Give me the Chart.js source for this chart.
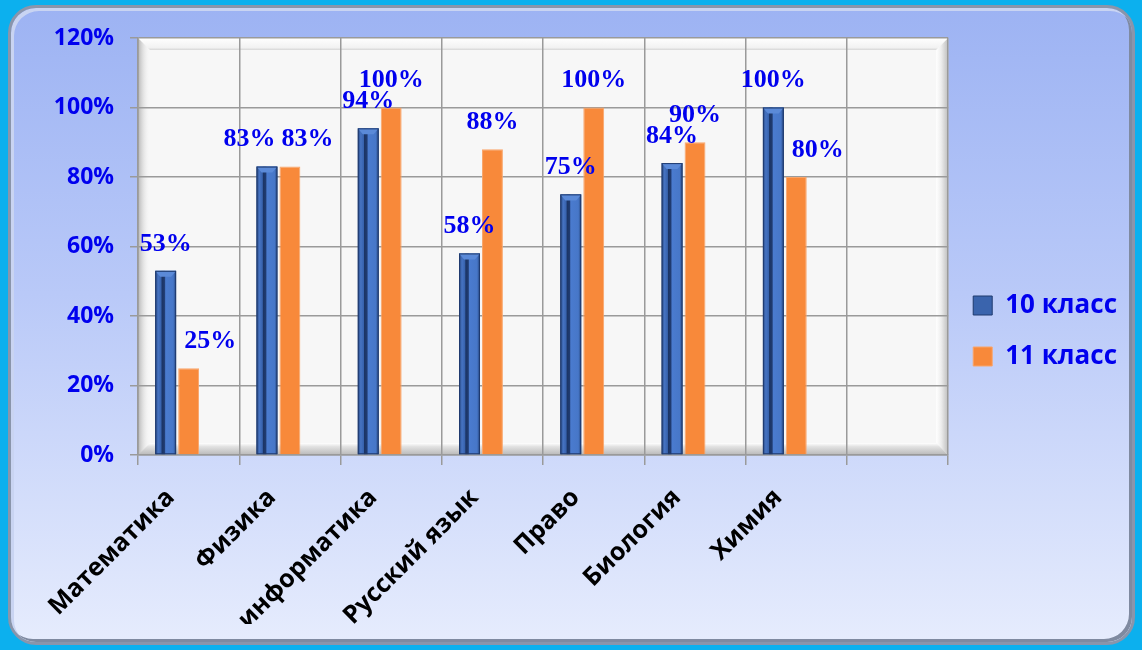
<!DOCTYPE html>
<html>
<head>
<meta charset="utf-8">
<script src="https://cdn.jsdelivr.net/npm/chart.js@4/dist/chart.umd.min.js"></script>
<style>
    html, body { margin: 0; padding: 0; }
    body { width: 1142px; height: 650px; background: #0cb0ee; position: relative; overflow: hidden; }
    #frame {
        position: absolute; left: 8px; top: 5px; width: 1121px; height: 634px;
        border: 3px solid #8a95ab; border-radius: 28px;
        background: linear-gradient(to bottom, #9db3f3 0%, #b9c9f8 45%, #e6ecfd 100%);
        box-shadow: inset 3px 3px 0 #c9d4f2, inset -3px -3px 0 #7f8aa0;
    }
    #myChart { position: absolute; left: 0; top: 0; }
</style>
</head>
<body>
<div id="frame"></div>
<canvas id="myChart" width="1142" height="650"></canvas>
<script>
var categories = ['Математика', 'Физика', 'информатика', 'Русский язык', 'Право', 'Биология', 'Химия', ''];
var class10 = [53, 83, 94, 58, 75, 84, 100, null];
var class11 = [25, 83, 100, 88, 100, 90, 80, null];
var spacer = [null, null, null, null, null, null, null, null];
var yTicks = [0, 20, 40, 60, 80, 100, 120];

var labelBlue = '#0000ee';

// plot area with the bevelled Excel look
var plotBackground = {
    id: 'plotBackground',
    beforeDraw: function (chart) {
        var c = chart.ctx, a = chart.chartArea;
        var l = a.left, t = a.top, r = a.right, b = a.bottom;
        c.save();
        c.fillStyle = '#f7f7f7';
        c.fillRect(l, t, r - l, b - t);
        // left shade
        var g = c.createLinearGradient(l, 0, l + 12, 0);
        g.addColorStop(0, '#b4b4b4');
        g.addColorStop(1, 'rgba(247,247,247,0)');
        c.fillStyle = g;
        c.fillRect(l, t, 12, b - t);
        // top lip
        g = c.createLinearGradient(0, t, 0, t + 12);
        g.addColorStop(0, '#ffffff');
        g.addColorStop(0.8, '#f2f2f2');
        g.addColorStop(1, '#d6d6d6');
        c.fillStyle = g;
        c.beginPath();
        c.moveTo(l, t); c.lineTo(r, t); c.lineTo(r - 12, t + 12); c.lineTo(l + 12, t + 12); c.closePath();
        c.fill();
        // right side
        g = c.createLinearGradient(r - 12, 0, r, 0);
        g.addColorStop(0, '#ffffff');
        g.addColorStop(0.4, '#eeeeee');
        g.addColorStop(1, '#bdbdbd');
        c.fillStyle = g;
        c.beginPath();
        c.moveTo(r, t); c.lineTo(r, b); c.lineTo(r - 12, b - 12); c.lineTo(r - 12, t + 12); c.closePath();
        c.fill();
        // floor
        g = c.createLinearGradient(0, b - 12, 0, b);
        g.addColorStop(0, '#ffffff');
        g.addColorStop(0.3, '#e2e2e2');
        g.addColorStop(1, '#b8b8b8');
        c.fillStyle = g;
        c.beginPath();
        c.moveTo(l, b); c.lineTo(r, b); c.lineTo(r - 12, b - 12); c.lineTo(l + 12, b - 12); c.closePath();
        c.fill();
        c.restore();
    }
};

// bevel on the blue bars
var barBevel = {
    id: 'barBevel',
    afterDatasetDraw: function (chart, args) {
        if (args.index !== 0) return;
        var c = chart.ctx;
        args.meta.data.forEach(function (bar, i) {
            if (class10[i] == null) return;
            var w = bar.width, x0 = bar.x - w / 2, y0 = bar.y, h = bar.base - bar.y;
            var g = c.createLinearGradient(x0, 0, x0 + w, 0);
            g.addColorStop(0, '#27477f');
            g.addColorStop(0.14, '#4673c2');
            g.addColorStop(0.28, '#3762ad');
            g.addColorStop(0.32, '#1b3465');
            g.addColorStop(0.44, '#203b70');
            g.addColorStop(0.5, '#4a7bcf');
            g.addColorStop(0.86, '#4777c8');
            g.addColorStop(1, '#27477f');
            c.save();
            c.fillStyle = g;
            c.fillRect(x0, y0, w, h);
            // top cap
            c.fillStyle = '#5b8ad8';
            c.beginPath();
            c.moveTo(x0, y0); c.lineTo(x0 + w, y0); c.lineTo(x0 + w - 5, y0 + 6); c.lineTo(x0 + 5, y0 + 6); c.closePath();
            c.fill();
            c.strokeStyle = '#1f3a6e';
            c.lineWidth = 1;
            c.strokeRect(x0 + 0.5, y0 + 0.5, w - 1, h - 1);
            c.restore();
        });
    }
};

// value labels above the bars, pushed aside where they collide
var valueLabels = {
    id: 'valueLabels',
    afterDatasetsDraw: function (chart) {
        var c = chart.ctx;
        var m0 = chart.getDatasetMeta(0), m1 = chart.getDatasetMeta(1);
        c.save();
        c.font = 'bold 26px "Liberation Serif", "Times New Roman", serif';
        c.fillStyle = labelBlue;
        c.textAlign = 'center';
        c.textBaseline = 'middle';
        var lh = 20;
        for (var i = 0; i < categories.length; i++) {
            if (class10[i] == null || class11[i] == null) continue;
            var b0 = m0.data[i], b1 = m1.data[i];
            var t0 = class10[i] + '%', t1 = class11[i] + '%';
            var w0 = c.measureText(t0).width, w1 = c.measureText(t1).width;
            var p0 = { x: b0.x, y: b0.y - 27 }, p1 = { x: b1.x, y: b1.y - 27 };
            // orange label would sit on the blue bar
            if (p1.x - w1 / 2 < b0.x + b0.width / 2 && p1.y + lh / 2 > b0.y) {
                p1.x = b0.x + b0.width / 2 + 8 + w1 / 2;
            }
            // labels overlapping each other
            var overX = (p0.x + w0 / 2) - (p1.x - w1 / 2);
            if (overX > 0 && Math.abs(p0.y - p1.y) < lh) {
                p0.x -= overX / 2 + 3;
                p1.x += overX / 2 + 3;
            }
            c.fillText(t0, p0.x, p0.y);
            c.fillText(t1, p1.x, p1.y);
        }
        c.restore();
    }
};

var ctx = document.getElementById('myChart').getContext('2d');
var chart = new Chart(ctx, {
    type: 'bar',
    data: {
        labels: categories,
        datasets: [{
                label: '10 класс',
                data: class10,
                backgroundColor: '#3a64ad',
                borderColor: '#1f3a6e',
                borderWidth: 1
            },
            {
                label: '11 класс',
                data: class11,
                backgroundColor: '#f8893a',
                borderColor: '#f9a56a',
                borderWidth: 1
            },
            {
                // empty slot, Excel leaves room for a third series
                label: '',
                data: spacer
            }]
    },
    options: {
        responsive: false,
        animation: false,
        categoryPercentage: 0.68,
        barPercentage: 0.91,
        layout: { padding: { top: 38, right: 15, bottom: 26, left: 0 } },
        plugins: {
            tooltip: { enabled: false },
            legend: {
                position: 'right',
                labels: {
                    color: labelBlue,
                    font: { family: '"Open Sans", sans-serif', size: 26, weight: 'bold' },
                    boxWidth: 19,
                    boxHeight: 19,
                    padding: 25,
                    filter: function (item) { return item.text !== ''; }
                }
            }
        },
        scales: {
            x: {
                grid: { color: '#9a9a9a', lineWidth: 1.5, offset: true, tickLength: 10 },
                border: { color: '#9a9a9a', width: 1.5 },
                ticks: {
                    color: '#000000',
                    font: { family: '"Open Sans", sans-serif', size: 25, weight: 'bold' },
                    minRotation: 45,
                    maxRotation: 45,
                    autoSkip: false,
                    labelOffset: -18,
                    padding: 18
                },
                afterFit: function (scale) { scale.height = 169; }
            },
            y: {
                min: 0,
                max: 120,
                grid: { color: '#9a9a9a', lineWidth: 1.5, tickLength: 8 },
                border: { color: '#9a9a9a', width: 1.5 },
                afterBuildTicks: function (scale) {
                    scale.ticks = yTicks.map(function (v) { return { value: v }; });
                },
                ticks: {
                    color: labelBlue,
                    font: { family: '"Open Sans", sans-serif', size: 23, weight: 'bold' },
                    padding: 16,
                    callback: function (v) { return v + '%'; }
                },
                afterFit: function (scale) { scale.width = 138; }
            }
        }
    },
    plugins: [plotBackground, barBevel, valueLabels]
});
</script>
</body>
</html>
